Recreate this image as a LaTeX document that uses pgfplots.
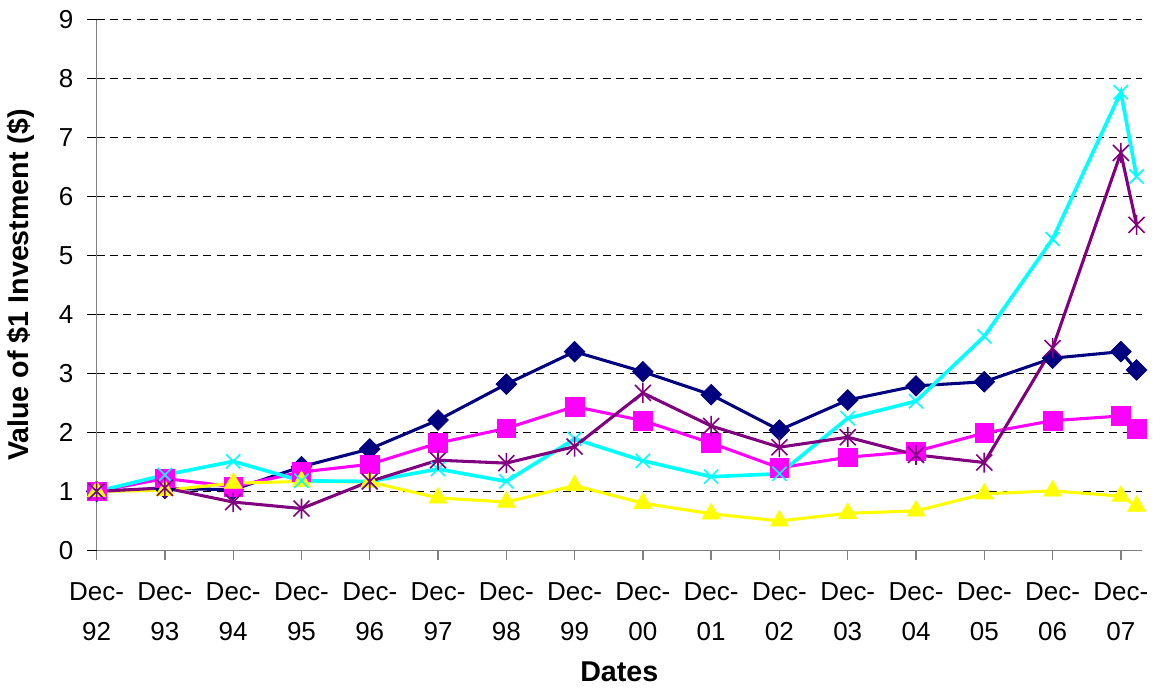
\documentclass[border=0pt]{standalone}
\usepackage{fontspec}
\setmainfont{Liberation Sans}
\usepackage{pgfplots}
\usepackage{pgfplotstable}
\pgfplotsset{compat=1.18}
\usetikzlibrary{calc,plotmarks}

\definecolor{navyc}{RGB}{0,0,128}
\definecolor{magc}{RGB}{255,0,255}
\definecolor{yelc}{RGB}{255,255,0}
\definecolor{cyac}{RGB}{0,255,255}
\definecolor{purc}{RGB}{128,0,128}
\definecolor{axc}{RGB}{128,128,128}

\pgfdeclareplotmark{xstar}{%
  \pgfpathmoveto{\pgfqpoint{0pt}{\pgfplotmarksize}}%
  \pgfpathlineto{\pgfqpoint{0pt}{-\pgfplotmarksize}}%
  \pgfpathmoveto{\pgfqpoint{-0.8\pgfplotmarksize}{0.8\pgfplotmarksize}}%
  \pgfpathlineto{\pgfqpoint{0.8\pgfplotmarksize}{-0.8\pgfplotmarksize}}%
  \pgfpathmoveto{\pgfqpoint{-0.8\pgfplotmarksize}{-0.8\pgfplotmarksize}}%
  \pgfpathlineto{\pgfqpoint{0.8\pgfplotmarksize}{0.8\pgfplotmarksize}}%
  \pgfusepathqstroke}

\pgfplotstableread{
x     nav   mag   yel   cya   pur
0     1.00  1.00  1.00  1.00  1.00
1     1.05  1.22  1.02  1.28  1.06
2     1.03  1.08  1.14  1.51  0.82
3     1.42  1.33  1.17  1.18  0.71
4     1.72  1.46  1.16  1.17  1.17
5     2.21  1.82  0.89  1.38  1.53
6     2.82  2.07  0.82  1.17  1.48
7     3.37  2.44  1.10  1.89  1.76
8     3.03  2.20  0.80  1.52  2.67
9     2.64  1.82  0.62  1.25  2.11
10    2.04  1.40  0.50  1.30  1.75
11    2.55  1.58  0.63  2.24  1.92
12    2.79  1.68  0.67  2.53  1.62
13    2.86  1.99  0.96  3.63  1.49
14    3.26  2.20  1.01  5.28  3.43
15    3.37  2.28  0.92  7.77  6.74
15.23 3.06  2.06  0.75  6.34  5.52
}\datatable

\begin{document}
\begin{tikzpicture}
\begin{axis}[
  scale only axis, width=784.5pt, height=398.25pt,
  xmin=0, xmax=15.31, ymin=0, ymax=9,
  axis x line*=bottom, axis y line*=left,
  axis line style={axc, line width=1.1pt},
  xtick={0,...,15},
  xticklabels={{Dec-\\92},{Dec-\\93},{Dec-\\94},{Dec-\\95},{Dec-\\96},{Dec-\\97},{Dec-\\98},{Dec-\\99},{Dec-\\00},{Dec-\\01},{Dec-\\02},{Dec-\\03},{Dec-\\04},{Dec-\\05},{Dec-\\06},{Dec-\\07}},
  ytick={0,...,9},
  tick align=outside, major tick length=7pt,
  xtick style={axc, line width=1pt},
  ytick style={black, line width=0.9pt},
  ymajorgrids,
  grid style={black, dash pattern=on 6pt off 4pt, line width=0.7pt},
  x tick label style={align=center, font=\fontsize{19.5}{30}\selectfont, yshift=-14pt},
  y tick label style={font=\fontsize{19.5}{24}\selectfont, xshift=-7pt},
  /pgf/number format/assume math mode=true,
  xlabel={Dates},
  ylabel={Value of \$1 Investment (\$)},
  label style={font=\fontsize{21.5}{26}\selectfont\bfseries},
  xlabel style={at={(axis description cs:0.5,-0.2285)}, anchor=center},
  ylabel style={at={(axis description cs:-0.0724,0.5)}, anchor=center},
  clip=false,
]
\addplot[color=navyc, line width=2.3pt, mark=square*, mark size=5.5pt,
  mark options={rotate=45, line width=0.5pt, fill=navyc}] table[x=x,y=nav] {\datatable};
\addplot[color=magc, line width=2.3pt, mark=square*, mark size=7pt,
  mark options={line width=0.5pt, fill=magc}] table[x=x,y=mag] {\datatable};
\addplot[color=yelc, line width=2.3pt, mark=triangle*, mark size=7.8pt,
  mark options={line width=0.5pt, fill=yelc}] table[x=x,y=yel] {\datatable};
\addplot[color=cyac, line width=2.7pt, mark=x, mark size=7.5pt,
  mark options={line width=1.2pt}] table[x=x,y=cya] {\datatable};
\addplot[color=purc, line width=2.3pt, mark=xstar, mark size=7.5pt,
  mark options={line width=1.2pt}] table[x=x,y=pur] {\datatable};
\end{axis}
\pgfresetboundingbox
\path ($(current axis.south west)+(-72.5pt,-103pt)$) rectangle ($(current axis.north east)+(9pt,14.8pt)$);
\end{tikzpicture}
\end{document}
